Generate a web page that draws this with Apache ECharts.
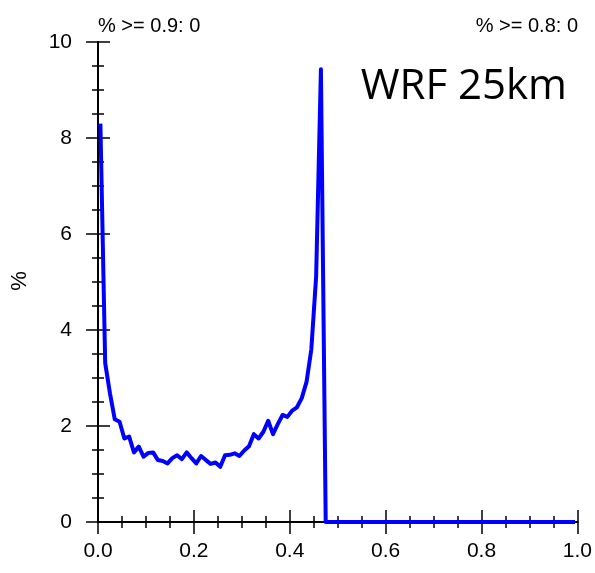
<!DOCTYPE html>
<html>
<head>
<meta charset="utf-8">
<script src="https://cdn.jsdelivr.net/npm/echarts@6/dist/echarts.min.js"></script>
<style>html,body{margin:0;padding:0;background:#fff;}#c{width:595px;height:573px;}</style>
</head>
<body>
<div id="c"></div>
<script>
var binCenters = [0.005,0.015,0.025,0.035,0.045,0.055,0.065,0.075,0.085,0.095,
0.105,0.115,0.125,0.135,0.145,0.155,0.165,0.175,0.185,0.195,
0.205,0.215,0.225,0.235,0.245,0.255,0.265,0.275,0.285,0.295,
0.305,0.315,0.325,0.335,0.345,0.355,0.365,0.375,0.385,0.395,
0.405,0.415,0.425,0.435,0.445,0.455,0.465,0.475,0.485,0.495,
0.505,0.515,0.525,0.535,0.545,0.555,0.565,0.575,0.585,0.595,
0.605,0.615,0.625,0.635,0.645,0.655,0.665,0.675,0.685,0.695,
0.705,0.715,0.725,0.735,0.745,0.755,0.765,0.775,0.785,0.795,
0.805,0.815,0.825,0.835,0.845,0.855,0.865,0.875,0.885,0.895,
0.905,0.915,0.925,0.935,0.945,0.955,0.965,0.975,0.985,0.995];
var percentValues = [8.30,3.31,2.68,2.14,2.09,1.74,1.78,1.45,1.57,1.36,
1.44,1.45,1.29,1.27,1.22,1.33,1.39,1.31,1.45,1.33,
1.22,1.375,1.29,1.21,1.24,1.15,1.39,1.40,1.43,1.375,
1.49,1.58,1.83,1.74,1.88,2.11,1.83,2.04,2.23,2.19,
2.32,2.39,2.58,2.92,3.60,5.11,9.43,0,0,0,
0,0,0,0,0,0,0,0,0,0,
0,0,0,0,0,0,0,0,0,0,
0,0,0,0,0,0,0,0,0,0,
0,0,0,0,0,0,0,0,0,0,
0,0,0,0,0,0,0,0,0,0];
var titleText = "WRF 25km";
var topLeftText = "% >= 0.9: 0";
var topRightText = "% >= 0.8: 0";
var yAxisTitle = "%";

var pts = binCenters.map(function(x, i){ return [x, percentValues[i]]; });
var FONT = "'Liberation Sans', Arial, Helvetica, sans-serif";
var axisLine = {show: true, lineStyle: {color: '#000', width: 2}};
function xAx(pos, showLabel) {
  return {
    type: 'value', position: pos, min: 0, max: 1, interval: 0.2,
    axisLine: axisLine,
    axisTick: {show: true, inside: false, length: 12, lineStyle: {color: '#000', width: 1.5}},
    minorTick: {show: true, splitNumber: 4, length: 6, lineStyle: {color: '#000', width: 1.5}},
    splitLine: {show: false}, minorSplitLine: {show: false},
    axisLabel: {show: showLabel, margin: 19, color: '#000', fontSize: 21, fontFamily: FONT,
      formatter: function(v){ return v.toFixed(1); }}
  };
}
function yAx(pos, showLabel) {
  return {
    type: 'value', position: pos, min: 0, max: 10, interval: 2,
    axisLine: axisLine,
    axisTick: {show: true, inside: false, length: 12, lineStyle: {color: '#000', width: 1.5}},
    minorTick: {show: true, splitNumber: 4, length: 6, lineStyle: {color: '#000', width: 1.5}},
    splitLine: {show: false}, minorSplitLine: {show: false},
    axisLabel: {show: showLabel, margin: 26, color: '#000', fontSize: 21, fontFamily: FONT}
  };
}
var chart = echarts.init(document.getElementById('c'), null, {renderer: 'canvas'});
chart.setOption({
  animation: false,
  backgroundColor: '#fff',
  grid: {left: 98, top: 42, width: 480, height: 480, containLabel: false},
  xAxis: [xAx('bottom', true), xAx('top', false)],
  yAxis: [yAx('left', true), yAx('right', false)],
  series: [{
    type: 'line', xAxisIndex: 0, yAxisIndex: 0, data: pts,
    showSymbol: false, symbol: 'none', clip: false,
    lineStyle: {color: '#0000ff', width: 4, join: 'round'}
  }],
  graphic: [
    {type: 'text', x: 98, y: 26, style: {text: topLeftText, fontSize: 20, fontFamily: FONT, fill: '#000', align: 'left', verticalAlign: 'middle'}},
    {type: 'text', x: 578, y: 26, style: {text: topRightText, fontSize: 20, fontFamily: FONT, fill: '#000', align: 'right', verticalAlign: 'middle'}},
    {type: 'text', x: 567, y: 87, style: {text: titleText, fontSize: 42, fontFamily: "'Open Sans', 'Noto Sans', sans-serif", fill: '#000', align: 'right', verticalAlign: 'middle'}},
    {type: 'text', x: 20, y: 281, rotation: Math.PI / 2, style: {text: yAxisTitle, fontSize: 22, fontFamily: FONT, fill: '#000', align: 'center', verticalAlign: 'middle'}}
  ]
});
</script>
</body>
</html>
